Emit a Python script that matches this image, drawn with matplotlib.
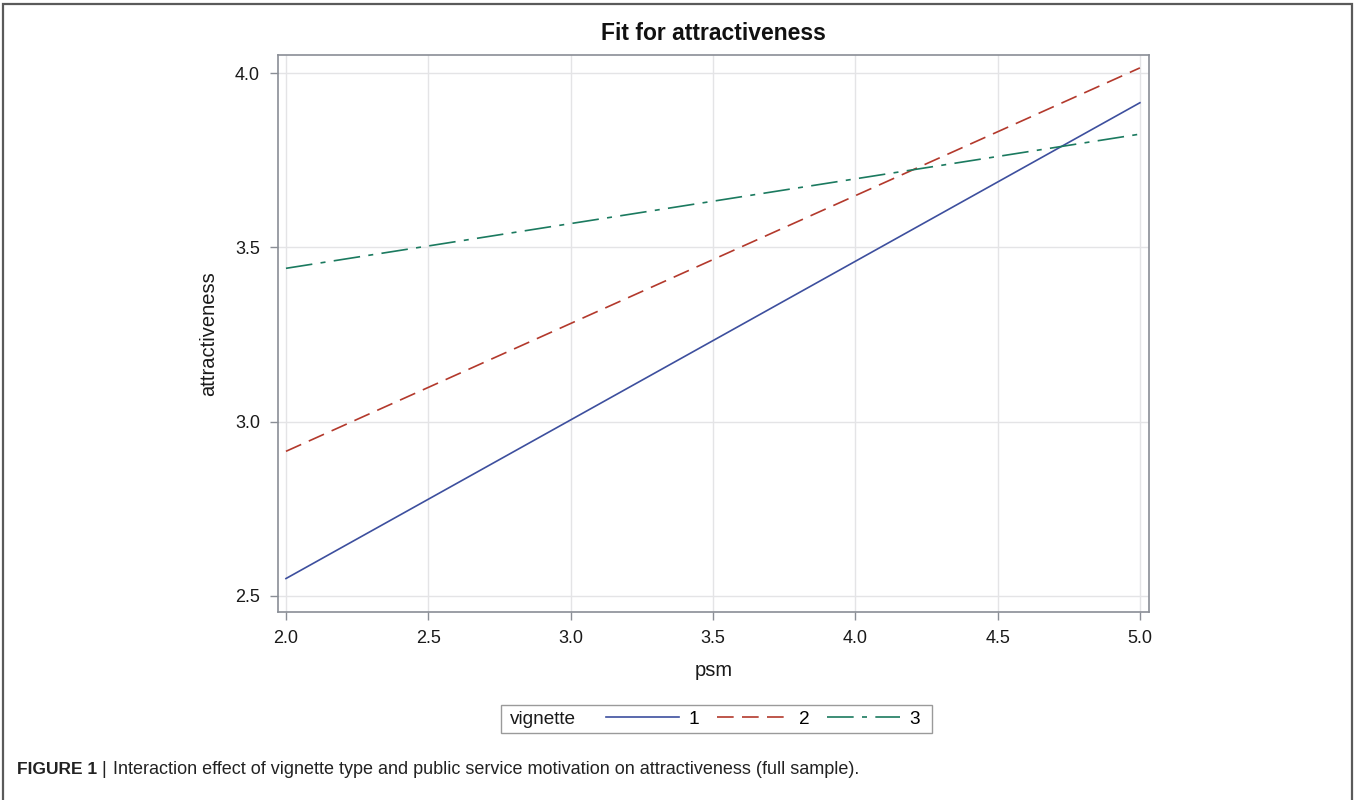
import matplotlib
matplotlib.use('Agg')
import matplotlib.pyplot as plt
from matplotlib.patches import Rectangle

plt.rcParams['font.family'] = ['Liberation Sans', 'DejaVu Sans']

# data: fitted lines (psm range endpoints)
psm = [2.0, 5.0]
vignettes = ['1', '2', '3']
fit_v1 = [2.55, 3.915]
fit_v2 = [2.915, 4.015]
fit_v3 = [3.44, 3.825]
xticks = [2.0, 2.5, 3.0, 3.5, 4.0, 4.5, 5.0]
yticks = [2.5, 3.0, 3.5, 4.0]

BLUE = '#3d4f9e'
RED = '#b3392c'
GREEN = '#1b7a5f'
GRID = '#e4e4e6'
SPINE = '#8a8e96'
TXT = '#1a1a1a'

W, H = 1357, 800
fig = plt.figure(figsize=(W / 100, H / 100), dpi=100)
fig.patch.set_facecolor('white')

# outer frame (open at the bottom)
fig.add_artist(Rectangle((3 / W, -0.05), (1352 - 3) / W, 1 - 4 / H + 0.05,
                         transform=fig.transFigure, fill=False,
                         edgecolor='#5a5a5a', linewidth=1.6))

ax = fig.add_axes([278 / W, 1 - 612 / H, (1149 - 278) / W, (612 - 55) / H])

l1, = ax.plot(psm, fit_v1, color=BLUE, lw=1.2, label=vignettes[0])
l2, = ax.plot(psm, fit_v2, color=RED, lw=1.2, dashes=(10, 5), label=vignettes[1])
l3, = ax.plot(psm, fit_v3, color=GREEN, lw=1.2, dashes=(16, 5, 3, 5), label=vignettes[2])

ax.set_xlim(1.972, 5.032)
ax.set_ylim(2.454, 4.052)
ax.set_xticks(xticks)
ax.set_yticks(yticks)
ax.set_xticklabels([f'{v:.1f}' for v in xticks])
ax.set_yticklabels([f'{v:.1f}' for v in yticks])
ax.grid(True, color=GRID, lw=1.0)
ax.set_axisbelow(True)
for s in ax.spines.values():
    s.set_color(SPINE)
    s.set_linewidth(1.2)
ax.tick_params(direction='out', length=6, width=1, color=SPINE,
               labelsize=13, labelcolor=TXT, pad=7)

ax.set_xlabel('psm', fontsize=14.5, color=TXT, labelpad=10)
ax.set_ylabel('attractiveness', fontsize=14.5, color=TXT, labelpad=12)
ax.set_title('Fit for attractiveness', fontsize=16.5, fontweight='bold',
             color='#111111', pad=11)

# legend box
fig.add_artist(Rectangle((501 / W, 1 - 733 / H), (932 - 501) / W, 28 / H,
                         transform=fig.transFigure, fill=False,
                         edgecolor='#9a9a9a', linewidth=1.0))
fig.text(510 / W, 1 - 719 / H, 'vignette', fontsize=13.7, color=TXT,
         ha='left', va='center')
fig.legend(handles=[l1, l2, l3], loc='center left',
           bbox_to_anchor=(606 / W, 1 - 719 / H), ncol=3, frameon=False,
           fontsize=13.7, handlelength=3.85, handletextpad=0.5,
           columnspacing=0.9, borderpad=0, borderaxespad=0)

# caption
fig.text(17 / W, 1 - 769 / H, 'FIGURE 1', fontsize=12.5, fontweight='bold',
         color='#222222', ha='left', va='center')
fig.text(101 / W, 1 - 769 / H, '|', fontsize=13, color='#222222',
         ha='left', va='center')
fig.text(113 / W, 1 - 769 / H,
         'Interaction effect of vignette type and public service motivation on attractiveness (full sample).',
         fontsize=13, color='#222222', ha='left', va='center')

fig.savefig('out.png', dpi=100, facecolor='white')
